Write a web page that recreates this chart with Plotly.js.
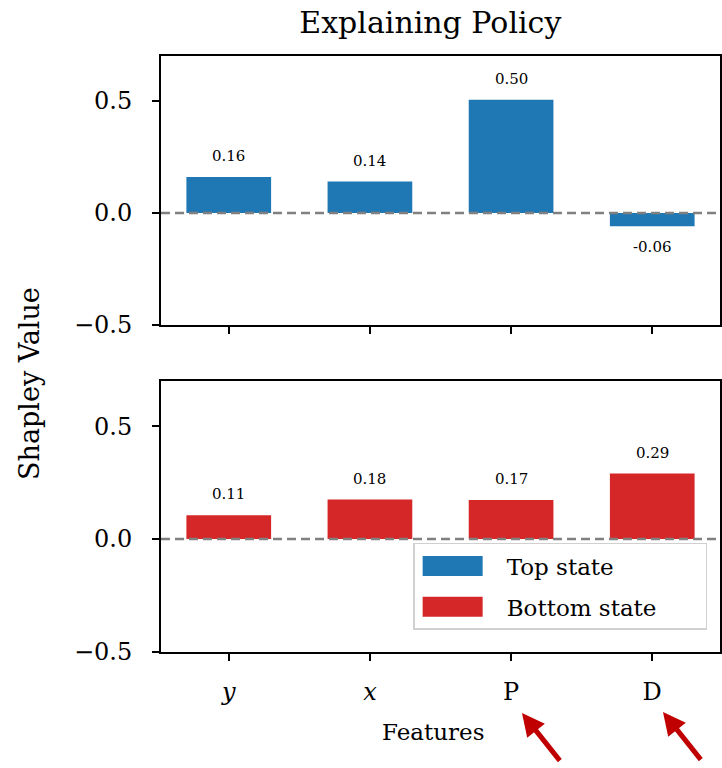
<!DOCTYPE html>
<html>
<head>
<meta charset="utf-8">
<script src="https://cdn.plot.ly/plotly-3.0.1.min.js"></script>
<style>html,body{margin:0;padding:0;background:#fff}</style>
</head>
<body>
<div id="chart" style="width:722px;height:768px"></div>
<script>
const features = ["<i>y</i>", "<i>x</i>", "P", "D"];
const topValues = [0.16, 0.14, 0.505, -0.06];
const topLabels = ["0.16", "0.14", "0.50", "-0.06"];
const bottomValues = [0.105, 0.175, 0.173, 0.29];
const bottomLabels = ["0.11", "0.18", "0.17", "0.29"];
const seriesNames = ["Top state", "Bottom state"];
const yTicks = [-0.5, 0, 0.5];
const yTickText = ["\u22120.5", "0.0", "0.5"];

const FONT = "DejaVu Serif, Liberation Serif, serif";
const BLUE = "#1f77b4", RED = "#d62728";
const PAD = "\u00a0".repeat(6); // extra right padding inside the legend box

const traces = [
  {type: "bar", x: features, y: topValues, xaxis: "x", yaxis: "y",
   marker: {color: BLUE}, width: 0.6, showlegend: false, hoverinfo: "skip",
   text: topLabels, textposition: "none"},
  {type: "bar", x: features, y: bottomValues, xaxis: "x2", yaxis: "y2",
   marker: {color: RED}, width: 0.6, showlegend: false, hoverinfo: "skip",
   text: bottomLabels, textposition: "none"},
  {type: "scatter", mode: "lines", x: [null], y: [null], xaxis: "x2", yaxis: "y2",
   name: seriesNames[0], legendgroup: "a", line: {color: BLUE, width: 10}, showlegend: true},
  {type: "scatter", mode: "lines", x: [null], y: [null], xaxis: "x2", yaxis: "y2",
   name: seriesNames[1] + PAD, legendgroup: "b", line: {color: RED, width: 10}, showlegend: true}
];

const annotations = [];
topValues.forEach((v, i) => {
  annotations.push({xref: "x", yref: "y", x: features[i], y: v, text: topLabels[i],
    showarrow: false, yshift: v >= 0 ? 10 : -32, font: {family: FONT, size: 15, color: "#000"}, yanchor: "bottom"});
});
bottomValues.forEach((v, i) => {
  annotations.push({xref: "x2", yref: "y2", x: features[i], y: v, text: bottomLabels[i],
    showarrow: false, yshift: 10, font: {family: FONT, size: 15, color: "#000"}, yanchor: "bottom"});
});
annotations.push({xref: "paper", yref: "paper", x: -0.234, y: 0.45, xanchor: "center", yanchor: "middle",
  text: "Shapley Value", textangle: -90, showarrow: false, font: {family: FONT, size: 27, color: "#000"}});
annotations.push({xref: "paper", yref: "paper", x: 0.487, y: -0.134, xanchor: "center", yanchor: "middle",
  text: "Features", showarrow: false, font: {family: FONT, size: 23, color: "#000"}});
[[0.6458, -0.1025], [0.8980, -0.1008]].forEach(p => {
  annotations.push({xref: "paper", yref: "paper", x: p[0], y: p[1], ax: 39, ay: 49,
    text: "", showarrow: true, arrowhead: 2, arrowsize: 0.9, arrowwidth: 5, arrowcolor: "#c00000"});
});

const axisCommon = {
  showline: true, mirror: true, linecolor: "#000", linewidth: 2,
  ticks: "outside", ticklen: 7, tickwidth: 2, tickcolor: "#000",
  showgrid: false, zeroline: false, fixedrange: true,
  tickfont: {family: FONT, size: 24, color: "#000"}
};

const layout = {
  width: 722, height: 768,
  margin: {l: 161, r: 2, t: 56, b: 116},
  paper_bgcolor: "#fff", plot_bgcolor: "#fff",
  font: {family: FONT, color: "#000"},
  title: {text: "Explaining Policy", font: {family: FONT, size: 30, color: "#000"},
          x: 0.596, xanchor: "center", y: 0.971, yanchor: "middle"},
  xaxis: Object.assign({}, axisCommon, {domain: [0, 1], range: [-0.48, 3.48], anchor: "y",
          showticklabels: false, type: "category"}),
  yaxis: Object.assign({}, axisCommon, {domain: [0.5487, 1], range: [-0.5, 0.7], anchor: "x",
          tickvals: yTicks, ticktext: yTickText, ticklabelstandoff: 15}),
  xaxis2: Object.assign({}, axisCommon, {domain: [0, 1], range: [-0.48, 3.48], anchor: "y2",
          type: "category", ticklabelstandoff: 10}),
  yaxis2: Object.assign({}, axisCommon, {domain: [0, 0.4547], range: [-0.5, 0.7], anchor: "x2",
          tickvals: yTicks, ticktext: yTickText, ticklabelstandoff: 15}),
  shapes: [
    {type: "line", xref: "x domain", yref: "y", x0: 0, x1: 1, y0: 0, y1: 0,
     line: {color: "#808080", width: 2.5, dash: "9px,5px"}},
    {type: "line", xref: "x2 domain", yref: "y2", x0: 0, x1: 1, y0: 0, y1: 0,
     line: {color: "#808080", width: 2.5, dash: "9px,5px"}}
  ],
  legend: {x: 0.977, xanchor: "right", y: 0.183, yanchor: "top",
           bgcolor: "rgba(255,255,255,0.85)", bordercolor: "#d0d0d0", borderwidth: 1.5,
           font: {family: FONT, size: 23, color: "#000"}, itemwidth: 82,
           tracegroupgap: 8},
  annotations: annotations,
  bargap: 0.4
};

Plotly.newPlot("chart", traces, layout, {displayModeBar: false, staticPlot: true}).then(gd => {
  // render legend swatches as 60x20 filled patches like the original
  gd.querySelectorAll(".legend .legendlines path").forEach(p => {
    p.setAttribute("d", "M8,0h60");
    p.style.strokeWidth = "20px";
  });
});
</script>
</body>
</html>
